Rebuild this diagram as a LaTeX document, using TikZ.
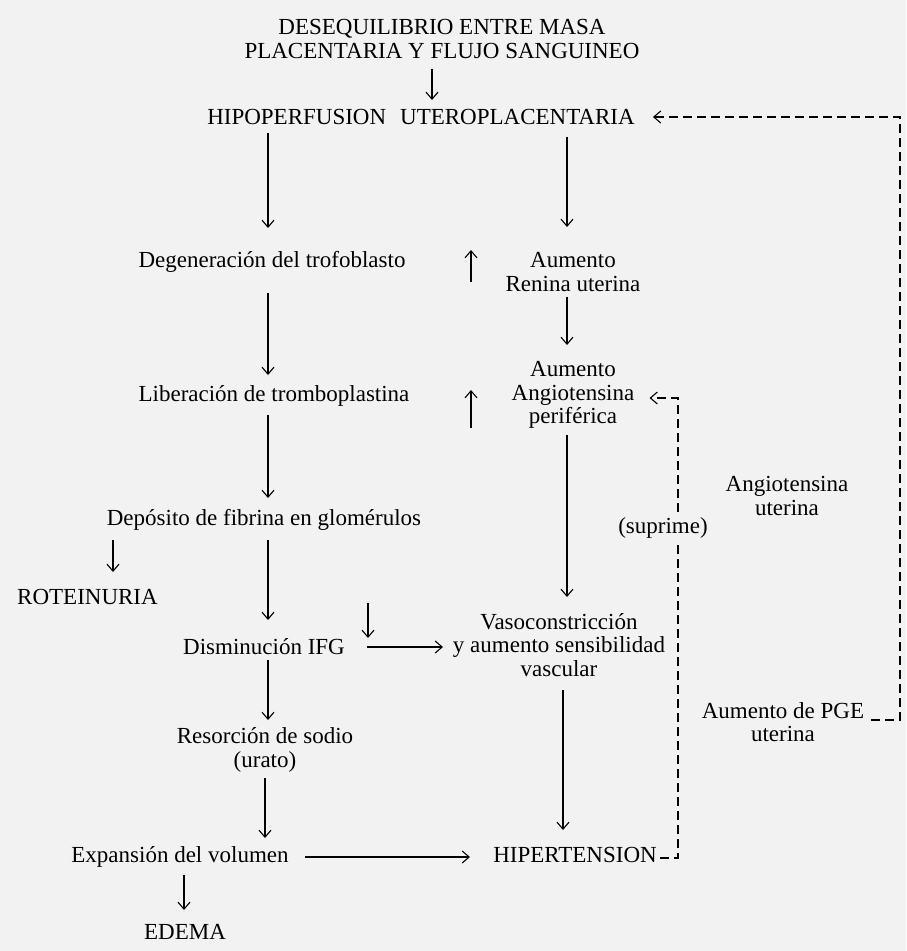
\documentclass[tikz,border=0pt]{standalone}
\usepackage{fontspec}
\setmainfont{Liberation Serif}
\usetikzlibrary{arrows.meta}
\begin{document}
\begin{tikzpicture}[x=1pt,y=-1pt,
  txt/.style={inner sep=0pt, align=center, font=\fontsize{23}{23.5}\selectfont},
  arr/.style={line width=1.2pt, -{Straight Barb[length=7pt,width=12pt,line width=1.1pt]}},
  darr/.style={line width=1.2pt, dash pattern=on 9pt off 5pt, -{Straight Barb[length=7pt,width=12pt,line width=1.1pt]}}]
\useasboundingbox[fill=black!5] (0,0) rectangle (906,951);
% nodes
\node[txt] (tit) at (442,39) {DESEQUILIBRIO ENTRE MASA\\PLACENTARIA Y FLUJO SANGUINEO};
\node[txt] (hipo) at (421,117) {HIPOPERFUSION\hspace{14pt}UTEROPLACENTARIA};
\node[txt] (deg) at (272,262) {Degeneración del trofoblasto};
\node[txt] (ren) at (573,272) {Aumento\\Renina uterina};
\node[txt] (lib) at (274,396) {Liberación de tromboplastina};
\node[txt] (ang) at (573,395) {Aumento\\Angiotensina\\periférica};
\node[txt] (dep) at (264,520) {Depósito de fibrina en glomérulos};
\node[txt] (angu) at (787,496) {Angiotensina\\uterina};
\node[txt,anchor=west] (prot) at (17,597) {ROTEINURIA};
\node[txt] (ifg) at (264,647) {Disminución IFG};
\node[txt] (vaso) at (559,645) {Vasoconstricción\\y aumento sensibilidad\\vascular};
\node[txt] (res) at (265,750) {Resorción de sodio\\(urato)};
\node[txt] (pge) at (783,722) {Aumento de PGE\\uterina};
\node[txt] (exp) at (180,857) {Expansión del volumen};
\node[txt] (hip) at (575,855) {HIPERTENSION};
\node[txt] (ede) at (185,932) {EDEMA};
% column coordinates
\coordinate (cT) at (432,0);
\coordinate (cL) at (268,0);
\coordinate (cR) at (567,0);
\coordinate (cV) at (563,0);
\coordinate (cS) at (265,0);
\coordinate (cP) at (113,0);
\coordinate (cE) at (184,0);
\coordinate (cD) at (678,0);
\coordinate (cO) at (900,0);
% free arrows (increase signs)
\coordinate (up1s) at (471,282); \coordinate (up1e) at (471,250);
\coordinate (up2s) at (471,428); \coordinate (up2e) at (471,390);
\coordinate (sm1s) at (368,603); \coordinate (sm1e) at (368,638);
% connectors
\draw[arr] ([yshift=-30pt]tit.center -| cT) -- ([yshift=17pt]hipo.center -| cT);
\draw[arr] ([yshift=-16pt]hipo.center -| cL) -- ([yshift=34pt]deg.center -| cL);
\draw[arr] ([yshift=-20pt]hipo.center -| cR) -- ([yshift=45pt]ren.center -| cR);
\draw[arr] (up1s) -- (up1e);
\draw[arr] ([yshift=-25pt]ren.center -| cR) -- ([yshift=50pt]ang.center -| cR);
\draw[arr] ([yshift=-31pt]deg.center -| cL) -- ([yshift=21pt]lib.center -| cL);
\draw[arr] (up2s) -- (up2e);
\draw[arr] ([yshift=-19pt]lib.center -| cL) -- ([yshift=22pt]dep.center -| cL);
\draw[arr] ([yshift=-40pt]ang.center -| cR) -- ([yshift=48pt]vaso.center -| cR);
\draw[arr] ([yshift=-20pt]dep.center -| cP) -- ([yshift=25pt]prot.center -| cP);
\draw[arr] ([yshift=-20pt]dep.center -| cL) -- ([yshift=27pt]ifg.center -| cL);
\draw[arr] (sm1s) -- (sm1e);
\draw[arr] ([xshift=103pt]ifg.center) -- ([xshift=-116pt]vaso.center |- ifg.center);
\draw[arr] ([yshift=-13pt]ifg.center -| cL) -- ([yshift=30pt]res.center -| cL);
\draw[arr] ([yshift=-45pt]vaso.center -| cV) -- ([yshift=25pt]hip.center -| cV);
\draw[arr] ([yshift=-28pt]res.center -| cS) -- ([yshift=19pt]exp.center -| cS);
\draw[arr] ([xshift=125pt]exp.center) -- ([xshift=-105pt]hip.center |- exp.center);
\draw[arr] ([yshift=-18pt]exp.center -| cE) -- ([yshift=22pt]ede.center -| cE);
% dashed feedback loops
\draw[darr] ([xshift=3pt,yshift=-3pt]hip.east) -- ([yshift=-3pt]hip.east -| cD) -- ([yshift=-3pt]ang.center -| cD) -- ([xshift=15pt,yshift=-3pt]ang.east);
\draw[darr] ([xshift=7pt,yshift=2pt]pge.east) -- ([yshift=2pt]pge.east -| cO) -- (hipo.east -| cO) -- ([xshift=18pt]hipo.east);
\node[txt,fill=black!5,inner sep=3pt] (sup) at (663,528) {(suprime)};
\end{tikzpicture}
\end{document}
